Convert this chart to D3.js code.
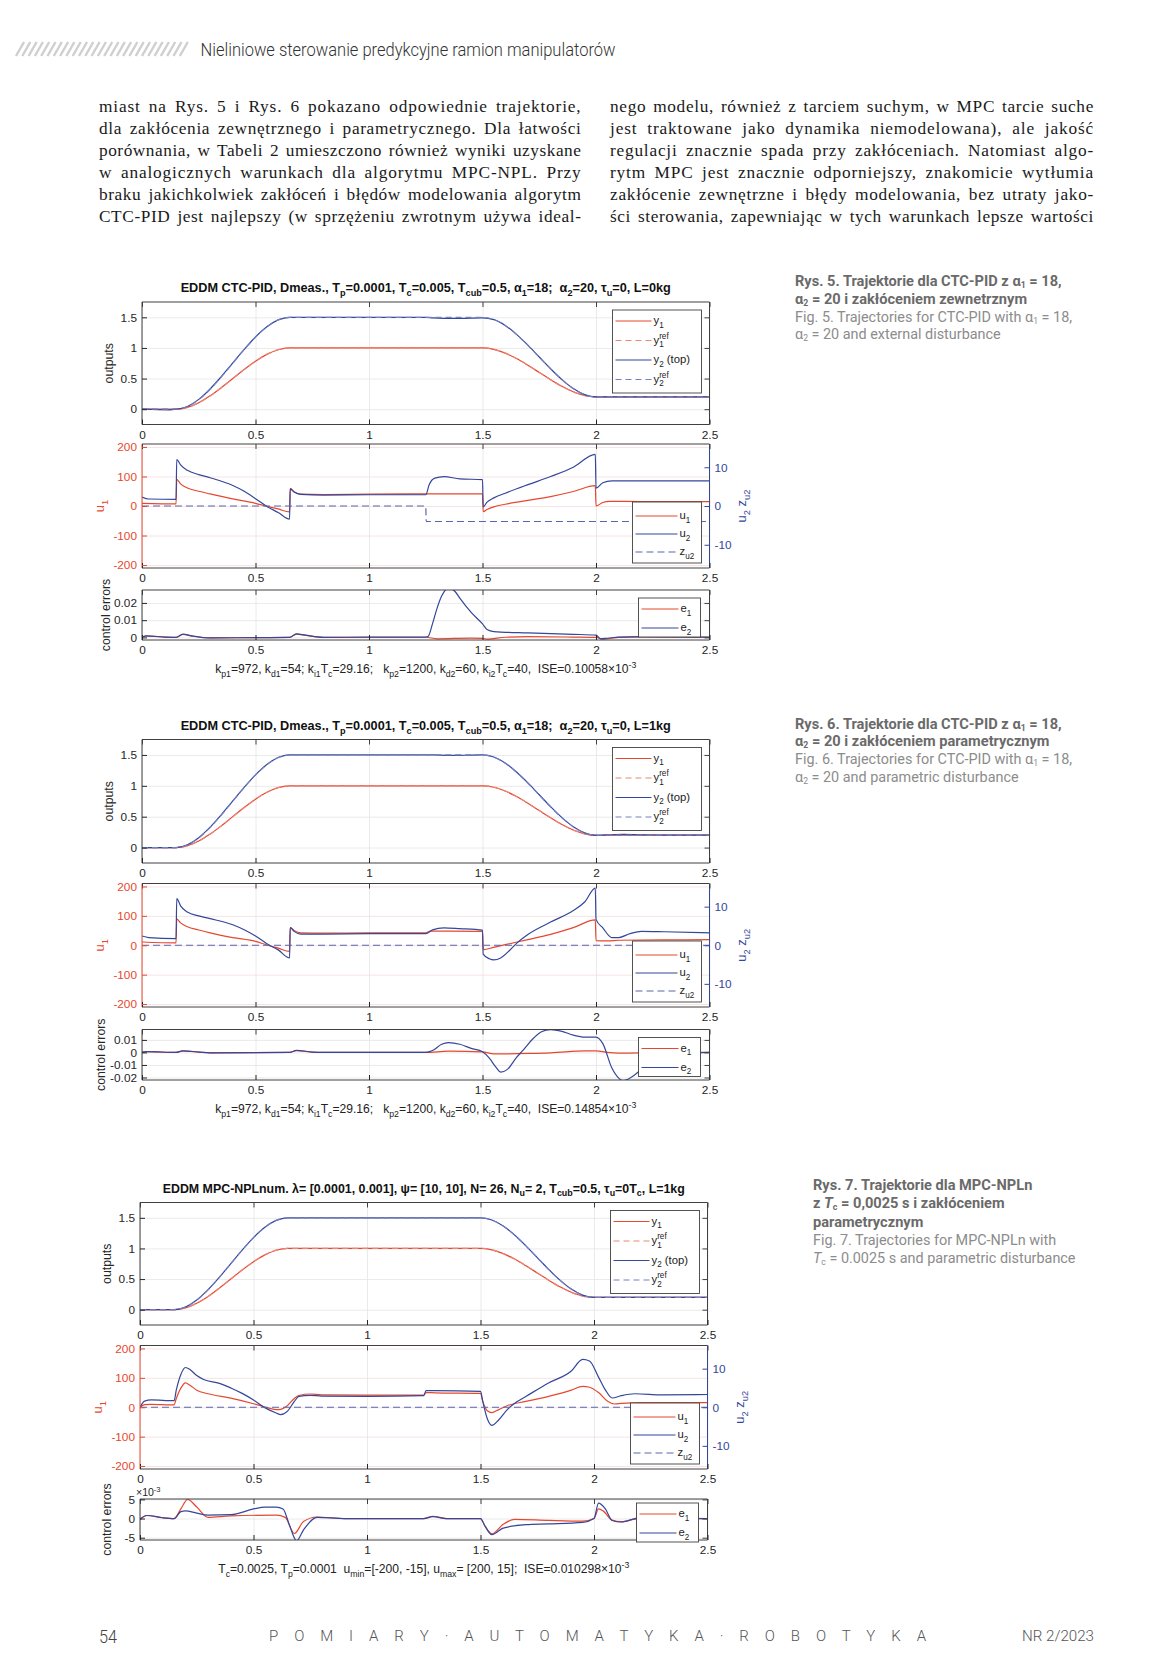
<!DOCTYPE html>
<html><head><meta charset="utf-8">
<script src="https://cdn.jsdelivr.net/npm/d3@7/dist/d3.min.js"></script>
<style>body{margin:0;background:#fff} svg text{white-space:pre}</style>
</head><body>
<script>
// ---------------- DATA ----------------
const xTickVals = [0, 0.5, 1, 1.5, 2, 2.5];
const xTickLabels = ["0", "0.5", "1", "1.5", "2", "2.5"];
const outTicks = [0, 0.5, 1, 1.5];
const outTickLabels = ["0", "0.5", "1", "1.5"];
const uLeftTicks = [-200, -100, 0, 100, 200];
const uLeftTickLabels = ["-200", "-100", "0", "100", "200"];
const uRightTicks = [-10, 0, 10];
const uRightTickLabels = ["-10", "0", "10"];
const e5Ticks = [0, 0.01, 0.02];
const e5TickLabels = ["0", "0.01", "0.02"];
const e6Ticks = [-0.02, -0.01, 0, 0.01];
const e6TickLabels = ["-0.02", "-0.01", "0", "0.01"];
const e7Ticks = [-0.005, 0, 0.005];
const e7TickLabels = ["-5", "0", "5"];

// reference trajectories (shared)
const y1Ref = [[0,0],[0.15,0],[0.20,0.028],[0.25,0.104],[0.30,0.216],[0.35,0.352],[0.40,0.5],[0.45,0.648],[0.50,0.784],[0.55,0.896],[0.60,0.972],[0.65,1],[1.50,1],[1.55,0.978],[1.60,0.917],[1.65,0.827],[1.70,0.718],[1.75,0.6],[1.80,0.482],[1.85,0.373],[1.90,0.283],[1.95,0.222],[2.00,0.2],[2.50,0.2]];
const y2Ref = [[0,0],[0.15,0],[0.20,0.042],[0.25,0.156],[0.30,0.324],[0.35,0.528],[0.40,0.75],[0.45,0.972],[0.50,1.176],[0.55,1.344],[0.60,1.458],[0.65,1.5],[1.50,1.5],[1.55,1.464],[1.60,1.365],[1.65,1.219],[1.70,1.042],[1.75,0.85],[1.80,0.658],[1.85,0.481],[1.90,0.335],[1.95,0.236],[2.00,0.2],[2.50,0.2]];

// Fig. 5
const f5Y1 = [[0,0],[0.15,0],[0.20,0.03],[0.25,0.106],[0.30,0.218],[0.35,0.354],[0.40,0.501],[0.45,0.648],[0.50,0.783],[0.55,0.895],[0.60,0.971],[0.65,1],[1.50,1],[1.55,0.977],[1.60,0.916],[1.65,0.826],[1.70,0.717],[1.75,0.6],[1.80,0.482],[1.85,0.374],[1.90,0.284],[1.95,0.223],[2.00,0.2],[2.50,0.2]];
const f5Y2 = [[0,0],[0.12,-0.01],[0.15,0],[0.20,0.045],[0.25,0.16],[0.30,0.33],[0.35,0.535],[0.40,0.755],[0.45,0.975],[0.50,1.178],[0.55,1.345],[0.60,1.458],[0.65,1.5],[1.25,1.5],[1.28,1.49],[1.33,1.482],[1.42,1.484],[1.50,1.49],[1.55,1.462],[1.60,1.368],[1.65,1.222],[1.70,1.045],[1.75,0.852],[1.80,0.66],[1.85,0.483],[1.90,0.337],[1.95,0.238],[2.00,0.2],[2.50,0.2]];
const f5U1 = [[0,9],[0.15,7],[0.153,90],[0.17,75],[0.2,61],[0.25,50],[0.3,41],[0.4,24],[0.5,9],[0.55,-1],[0.6,-10],[0.65,-20],[0.653,60],[0.67,48],[0.7,40],[0.8,39],[1.0,40],[1.25,41],[1.5,41],[1.503,-19],[1.52,-12],[1.55,-3],[1.6,6],[1.7,19],[1.8,32],[1.9,49],[1.997,69],[2.0,0],[2.03,12],[2.06,16],[2.2,15],[2.5,15]];
const f5U2 = [[0,2.3],[0.03,1.8],[0.15,1.7],[0.153,12.0],[0.17,10.6],[0.2,9.2],[0.25,8.1],[0.3,7.3],[0.35,6.4],[0.4,5.3],[0.45,3.8],[0.5,1.9],[0.55,-0.1],[0.6,-1.7],[0.65,-3.4],[0.653,4.4],[0.67,3.6],[0.7,3.0],[0.8,2.8],[1.0,2.9],[1.25,2.9],[1.265,5.5],[1.29,7.2],[1.33,7.6],[1.4,7.0],[1.5,6.8],[1.503,-0.2],[1.52,1.0],[1.55,2.1],[1.6,3.3],[1.7,5.5],[1.8,7.6],[1.9,10.0],[1.997,13.3],[2.0,4.6],[2.03,6.0],[2.07,6.5],[2.2,6.5],[2.5,6.5]];
const f5Z = [[0,0],[1.25,0],[1.252,-4],[2.5,-4]];
const f5E1 = [[0,0.0003],[0.02,0.0007],[0.1,0.0002],[0.15,0],[0.18,0.0017],[0.22,0.0008],[0.3,-0.0003],[0.5,-0.0001],[0.65,0],[0.68,0.0019],[0.72,0.0012],[0.8,0],[1.0,0.0001],[1.25,0.0001],[1.3,-0.0008],[1.45,-0.0004],[1.5,-0.0005],[1.52,-0.001],[1.6,0.0001],[1.7,0.0004],[1.9,0.0002],[2.0,0],[2.03,-0.001],[2.1,0],[2.2,0.0003],[2.5,0.0001]];
const f5E2 = [[0,0.0002],[0.02,0.0009],[0.1,0.0002],[0.15,0],[0.18,0.0019],[0.22,0.0009],[0.3,-0.0003],[0.5,-0.0001],[0.65,0],[0.68,0.0021],[0.72,0.0013],[0.8,0],[1.0,0.0002],[1.25,0.0002],[1.26,0.0005],[1.28,0.008],[1.3,0.017],[1.32,0.024],[1.35,0.0285],[1.38,0.0265],[1.4,0.0228],[1.45,0.0145],[1.5,0.0078],[1.52,0.0046],[1.55,0.0034],[1.7,0.0026],[1.9,0.0018],[2.0,0.0013],[2.02,-0.0008],[2.05,-0.0005],[2.1,0.0002],[2.2,0.0004],[2.5,0.0002]];

// Fig. 6
const f6Y1 = [[0,0],[0.15,0],[0.20,0.03],[0.25,0.106],[0.30,0.218],[0.35,0.354],[0.40,0.501],[0.45,0.648],[0.50,0.783],[0.55,0.895],[0.60,0.971],[0.65,1],[1.50,1],[1.55,0.977],[1.60,0.916],[1.65,0.826],[1.70,0.717],[1.75,0.6],[1.80,0.482],[1.85,0.374],[1.90,0.284],[1.95,0.223],[2.00,0.198],[2.05,0.197],[2.2,0.2],[2.50,0.2]];
const f6Y2 = [[0,0],[0.15,0],[0.20,0.045],[0.25,0.16],[0.30,0.33],[0.35,0.535],[0.40,0.755],[0.45,0.975],[0.50,1.178],[0.55,1.345],[0.60,1.458],[0.65,1.5],[1.28,1.5],[1.35,1.492],[1.42,1.495],[1.50,1.5],[1.55,1.466],[1.60,1.37],[1.65,1.224],[1.70,1.047],[1.75,0.855],[1.80,0.662],[1.85,0.485],[1.90,0.338],[1.95,0.24],[2.00,0.198],[2.05,0.205],[2.12,0.212],[2.2,0.206],[2.3,0.203],[2.50,0.201]];
const f6U1 = [[0,11],[0.15,8],[0.153,90],[0.17,76],[0.2,63],[0.25,52],[0.3,42],[0.4,26],[0.5,13],[0.55,1],[0.6,-10],[0.65,-21],[0.653,60],[0.67,50],[0.7,42],[0.8,41],[1.0,42],[1.25,42],[1.27,48],[1.35,48],[1.5,47],[1.503,-15],[1.55,-7],[1.6,2],[1.7,19],[1.8,37],[1.9,60],[1.997,86],[2.0,16],[2.05,15],[2.1,17],[2.3,18],[2.5,19]];
const f6U2 = [[0,2.4],[0.03,2.0],[0.15,1.7],[0.153,12.1],[0.17,10.2],[0.2,8.6],[0.25,7.6],[0.3,6.9],[0.4,5.3],[0.45,4.0],[0.5,2.4],[0.55,0.4],[0.6,-1.2],[0.65,-3.3],[0.653,4.6],[0.67,3.6],[0.7,2.9],[0.8,2.9],[1.0,3.0],[1.25,3.0],[1.28,4.0],[1.33,4.5],[1.4,4.3],[1.5,3.9],[1.503,-2.3],[1.53,-3.5],[1.55,-3.8],[1.58,-3.3],[1.62,-1.3],[1.65,0.5],[1.7,2.8],[1.8,6.0],[1.9,9.0],[1.95,11.2],[1.997,14.8],[2.0,6.7],[2.03,4.5],[2.07,2.0],[2.1,2.0],[2.15,3.0],[2.2,3.6],[2.3,3.5],[2.5,3.2]];
const f6Z = [[0,0],[2.5,0]];
const f6E1 = [[0,0.0003],[0.02,0.0006],[0.15,0],[0.18,0.0012],[0.25,0.0003],[0.3,-0.0003],[0.65,0],[0.68,0.0014],[0.75,0.0003],[0.8,0],[1.25,0],[1.35,0.001],[1.5,0.0005],[1.55,-0.0012],[1.7,-0.0008],[1.8,-0.0003],[1.95,0.0012],[2.0,0.0013],[2.05,0],[2.1,-0.0006],[2.2,-0.0004],[2.3,0],[2.5,0]];
const f6E2 = [[0,0.0002],[0.02,0.0007],[0.15,0],[0.18,0.0013],[0.25,0.0003],[0.3,-0.0003],[0.65,0],[0.68,0.0016],[0.75,0.0003],[0.8,0],[1.25,0],[1.28,0.0015],[1.32,0.0065],[1.35,0.0078],[1.4,0.0065],[1.45,0.0032],[1.5,0.0005],[1.53,-0.0045],[1.56,-0.012],[1.58,-0.0157],[1.61,-0.0135],[1.65,-0.004],[1.68,0.002],[1.72,0.0105],[1.76,0.0165],[1.8,0.0182],[1.85,0.0168],[1.9,0.0138],[1.95,0.0122],[2.0,0.0122],[2.03,0.007],[2.07,-0.0125],[2.1,-0.0205],[2.12,-0.0225],[2.17,-0.018],[2.2,-0.0135],[2.3,-0.005],[2.4,-0.001],[2.5,0]];

// Fig. 7
const f7Y1 = [[0,0],[0.15,0],[0.20,0.029],[0.25,0.105],[0.30,0.217],[0.35,0.353],[0.40,0.5],[0.45,0.647],[0.50,0.783],[0.55,0.895],[0.60,0.971],[0.65,1],[1.50,1],[1.55,0.977],[1.60,0.916],[1.65,0.826],[1.70,0.717],[1.75,0.6],[1.80,0.482],[1.85,0.374],[1.90,0.284],[1.95,0.223],[2.00,0.2],[2.50,0.2]];
const f7Y2 = [[0,0],[0.15,0],[0.20,0.044],[0.25,0.158],[0.30,0.327],[0.35,0.531],[0.40,0.752],[0.45,0.973],[0.50,1.177],[0.55,1.345],[0.60,1.458],[0.65,1.5],[1.50,1.5],[1.55,1.464],[1.60,1.366],[1.65,1.22],[1.70,1.043],[1.75,0.851],[1.80,0.659],[1.85,0.482],[1.90,0.336],[1.95,0.237],[2.00,0.2],[2.50,0.2]];
const f7U1 = [[0,0],[0.02,9],[0.05,10],[0.15,8],[0.16,30],[0.18,65],[0.2,83],[0.22,75],[0.25,58],[0.3,46],[0.4,31],[0.5,12],[0.55,1],[0.6,-8],[0.62,-7],[0.65,6],[0.68,30],[0.7,40],[0.75,45],[0.8,42],[1.0,41],[1.25,41],[1.26,50],[1.3,49],[1.5,47],[1.51,20],[1.53,-12],[1.55,-18],[1.58,-8],[1.62,6],[1.7,20],[1.8,37],[1.9,58],[1.95,71],[1.98,68],[2.02,50],[2.06,20],[2.09,11],[2.12,13],[2.2,16],[2.5,16]];
const f7U2 = [[0,0],[0.02,1.6],[0.05,1.9],[0.15,1.7],[0.16,4.5],[0.18,8.5],[0.2,10.3],[0.22,9.8],[0.25,8.2],[0.28,7.2],[0.35,6.2],[0.4,5.0],[0.45,3.6],[0.5,1.9],[0.55,-0.1],[0.6,-1.5],[0.62,-1.9],[0.65,-1.0],[0.68,1.5],[0.7,2.8],[0.75,3.1],[0.8,2.9],[1.0,2.8],[1.25,3.0],[1.26,4.3],[1.3,4.3],[1.5,4.1],[1.51,1.5],[1.53,-3.0],[1.55,-4.7],[1.58,-3.3],[1.62,-0.5],[1.66,1.4],[1.7,2.8],[1.8,6.3],[1.9,9.4],[1.95,12.4],[1.98,12.0],[2.02,7.8],[2.05,4.5],[2.08,2.4],[2.12,3.0],[2.18,3.5],[2.3,3.2],[2.5,3.3]];
const f7Z = [[0,0],[2.5,0]];
const f7E1 = [[0,0],[0.03,0.0008],[0.1,0.0002],[0.15,0],[0.18,0.0025],[0.21,0.005],[0.25,0.003],[0.3,0.0003],[0.4,0.0007],[0.6,0.0009],[0.64,0.0003],[0.68,-0.0039],[0.72,-0.0008],[0.78,0.0004],[0.9,0],[1.25,0],[1.29,0.0006],[1.35,0],[1.5,0],[1.52,-0.002],[1.55,-0.004],[1.6,-0.0015],[1.65,-0.0002],[1.8,-0.0005],[1.95,-0.0007],[2.0,0],[2.02,0.0025],[2.04,0.002],[2.08,-0.0004],[2.12,-0.0008],[2.2,0],[2.5,0]];
const f7E2 = [[0,-0.0003],[0.03,0.0008],[0.1,0.0002],[0.15,0],[0.18,0.0018],[0.2,0.002],[0.25,0.0014],[0.3,0.0009],[0.4,0.001],[0.5,0.0025],[0.55,0.003],[0.6,0.003],[0.63,0.0025],[0.66,-0.002],[0.69,-0.0058],[0.72,-0.003],[0.78,0.0003],[0.9,0],[1.25,0],[1.29,0.0005],[1.35,0],[1.5,0],[1.52,-0.002],[1.55,-0.0042],[1.6,-0.0025],[1.7,-0.0016],[1.8,-0.0014],[1.95,-0.001],[2.0,0],[2.02,0.004],[2.05,0.0025],[2.08,-0.0005],[2.12,-0.0009],[2.2,0.0002],[2.5,0]];

// Texts
const headerText = "Nieliniowe sterowanie predykcyjne ramion manipulatorów";
const bodyLeft = [
 "miast na Rys. 5 i Rys. 6 pokazano odpowiednie trajektorie,",
 "dla zakłócenia zewnętrznego i parametrycznego. Dla łatwości",
 "porównania, w Tabeli 2 umieszczono również wyniki uzyskane",
 "w analogicznych warunkach dla algorytmu MPC-NPL. Przy",
 "braku jakichkolwiek zakłóceń i błędów modelowania algorytm",
 "CTC-PID jest najlepszy (w sprzężeniu zwrotnym używa ideal-"];
const bodyRight = [
 "nego modelu, również z tarciem suchym, w MPC tarcie suche",
 "jest traktowane jako dynamika niemodelowana), ale jakość",
 "regulacji znacznie spada przy zakłóceniach. Natomiast algo-",
 "rytm MPC jest znacznie odporniejszy, znakomicie wytłumia",
 "zakłócenie zewnętrzne i błędy modelowania, bez utraty jako-",
 "ści sterowania, zapewniając w tych warunkach lepsze wartości"];
const title5 = "EDDM CTC-PID, Dmeas., T_p=0.0001, T_c=0.005, T_{cub}=0.5, α_1=18;  α_2=20, τ_u=0, L=0kg";
const title6 = "EDDM CTC-PID, Dmeas., T_p=0.0001, T_c=0.005, T_{cub}=0.5, α_1=18;  α_2=20, τ_u=0, L=1kg";
const title7 = "EDDM MPC-NPLnum. λ= [0.0001, 0.001], ψ= [10, 10], N= 26, N_u= 2, T_{cub}=0.5, τ_u=0T_c, L=1kg";
const note5 = "k_{p1}=972, k_{d1}=54; k_{i1}T_c=29.16;   k_{p2}=1200, k_{d2}=60, k_{i2}T_c=40,  ISE=0.10058×10^{-3}";
const note6 = "k_{p1}=972, k_{d1}=54; k_{i1}T_c=29.16;   k_{p2}=1200, k_{d2}=60, k_{i2}T_c=40,  ISE=0.14854×10^{-3}";
const note7 = "T_c=0.0025, T_p=0.0001  u_{min}=[-200, -15], u_{max}= [200, 15];  ISE=0.010298×10^{-3}";
const cap5 = [["Rys. 5. Trajektorie dla CTC-PID z α_1 = 18,",1],["α_2 = 20 i zakłóceniem zewnetrznym",1],["Fig. 5. Trajectories for CTC-PID with α_1 = 18,",0],["α_2 = 20 and external disturbance",0]];
const cap6 = [["Rys. 6. Trajektorie dla CTC-PID z α_1 = 18,",1],["α_2 = 20 i zakłóceniem parametrycznym",1],["Fig. 6. Trajectories for CTC-PID with α_1 = 18,",0],["α_2 = 20 and parametric disturbance",0]];
const cap7 = [["Rys. 7. Trajektorie dla MPC-NPLn",1],["z ~{T}_c = 0,0025 s i zakłóceniem",1],["parametrycznym",1],["Fig. 7. Trajectories for MPC-NPLn with",0],["~{T}_c = 0.0025 s and parametric disturbance",0]];
const outLegend = ["y_1","y_1^{ref}","y_2 (top)","y_2^{ref}"];
const uLegend = ["u_1","u_2","z_{u2}"];
const eLegend = ["e_1","e_2"];

// ---------------- DRAWING ----------------
const W = 1162, H = 1672;
const svg = d3.select("body").append("svg").attr("width", W).attr("height", H).style("display","block");
const defs = svg.append("defs");
const RED = "#e6482f", BLUE = "#34479a", RED_REF = "#ec8577", BLUE_REF = "#7280c4", Z_COL = "#5866ad";
const AX = "#404040", GRID = "#e4e4e4", GRID_RED = "#f6dcdc";
const SANS = '"Liberation Sans", Arial, Helvetica, sans-serif';

function parseRich(s) {
  const segs = []; let buf = ""; let i = 0;
  while (i < s.length) {
    const c = s[i];
    if ((c === "_" || c === "^" || c === "~") && i + 1 < s.length) {
      if (buf) { segs.push({t: buf, k: "n"}); buf = ""; }
      const k = c === "_" ? "sub" : c === "^" ? "sup" : "it";
      if (s[i+1] === "{") { const j = s.indexOf("}", i); segs.push({t: s.slice(i+2, j), k}); i = j + 1; }
      else { segs.push({t: s[i+1], k}); i += 2; }
    } else { buf += c; i++; }
  }
  if (buf) segs.push({t: buf, k: "n"});
  return segs;
}
function rich(parent, s, x, y, o) {
  o = Object.assign({size: 12, fill: "#222", weight: "normal", anchor: "start", family: SANS, rotate: 0, subScale: 0.72, subDy: 0.32}, o || {});
  const g = parent.append("g");
  const inner = g.append("g");
  let cx = 0, subStart = null, prev = null;
  parseRich(s).forEach(sg => {
    let fs = o.size, dy = 0, sx = cx;
    if (sg.k === "sub") { fs = o.size * o.subScale; dy = o.size * o.subDy; subStart = cx; }
    if (sg.k === "sup") { fs = o.size * 0.72; dy = -o.size * 0.42; if (prev && prev.k === "sub") sx = subStart; }
    const t = inner.append("text").attr("x", sx).attr("y", dy).attr("font-size", fs)
      .attr("font-family", o.family).attr("font-weight", o.weight).attr("fill", o.fill)
      .attr("font-style", sg.k === "it" ? "italic" : "normal").text(sg.t);
    const w = t.node().getComputedTextLength();
    cx = Math.max(cx, sx + w);
    prev = sg;
  });
  const off = o.anchor === "middle" ? -cx / 2 : o.anchor === "end" ? -cx : 0;
  inner.attr("transform", `translate(${off},0)`);
  g.attr("transform", `translate(${x},${y}) rotate(${o.rotate})`);
  return cx;
}

// header
const hdr = svg.append("g");
d3.range(27).forEach(i => {
  const x0 = 16 + i * 6.3;
  hdr.append("line").attr("x1", x0).attr("y1", 56).attr("x2", x0 + 8).attr("y2", 42)
    .attr("stroke", "#cfcfcf").attr("stroke-width", 2.4);
});
svg.append("text").attr("x", 200.5).attr("y", 56).attr("font-family", "Roboto, 'Open Sans', sans-serif")
  .attr("font-weight", 300).attr("font-size", 19).attr("fill", "#333")
  .attr("textLength", 415).attr("lengthAdjust", "spacingAndGlyphs").text(headerText);

// body text, justified via letter- and word-spacing
function bodyCol(lines, x0, x1) {
  lines.forEach((ln, i) => {
    const t = svg.append("text").attr("x", x0).attr("y", 112 + i * 21.9)
      .attr("font-family", '"Liberation Serif", "DejaVu Serif", serif').attr("font-size", 17.3).attr("fill", "#1a1a1a").text(ln);
    const w = t.node().getComputedTextLength();
    const extra = (x1 - x0) - w;
    const ls = Math.min(0.85, Math.max(0, extra * 0.7 / ln.length));
    t.attr("letter-spacing", ls);
    const w2 = t.node().getComputedTextLength();
    const n = (ln.match(/ /g) || []).length;
    if (n > 0) t.attr("word-spacing", ((x1 - x0) - w2) / n);
  });
}
bodyCol(bodyLeft, 99, 581.5);
bodyCol(bodyRight, 610, 1094);

// panels
let clipN = 0;
function panel(P) {
  const g = svg.append("g");
  const x = d3.scaleLinear().domain([0, 2.5]).range([P.left, P.right]);
  const y = d3.scaleLinear().domain(P.yDomain).range([P.bottom, P.top]);
  const yR = P.r ? d3.scaleLinear().domain(P.r.domain).range([P.bottom, P.top]) : null;
  const h = P.bottom - P.top, w = P.right - P.left;
  // grid
  g.append("g").attr("transform", `translate(0,${P.bottom})`)
    .call(d3.axisBottom(x).tickValues(xTickVals).tickSize(-h).tickFormat(""))
    .call(a => { a.select(".domain").remove(); a.selectAll("line").attr("stroke", GRID).attr("stroke-width", 0.8); });
  g.append("g").attr("transform", `translate(${P.left},0)`)
    .call(d3.axisLeft(y).tickValues(P.yTicks).tickSize(-w).tickFormat(""))
    .call(a => { a.select(".domain").remove(); a.selectAll("line").attr("stroke", P.r ? GRID_RED : GRID).attr("stroke-width", 0.8); });
  // lines
  const id = "clip" + (clipN++);
  defs.append("clipPath").attr("id", id).append("rect").attr("x", P.left).attr("y", P.top).attr("width", w).attr("height", h);
  const lg = g.append("g").attr("clip-path", `url(#${id})`);
  P.series.forEach(s => {
    const sc = s.right ? yR : y;
    lg.append("path").datum(s.data)
      .attr("d", d3.line().x(d => x(d[0])).y(d => sc(d[1])).curve(d3.curveMonotoneX))
      .attr("fill", "none").attr("stroke", s.color).attr("stroke-width", 1.2)
      .attr("stroke-dasharray", s.dash || null);
  });
  // box
  const leftC = P.r ? RED : AX, rightC = P.r ? BLUE : AX;
  g.append("line").attr("x1", P.left).attr("x2", P.right).attr("y1", P.top).attr("y2", P.top).attr("stroke", AX);
  g.append("line").attr("x1", P.left).attr("x2", P.right).attr("y1", P.bottom).attr("y2", P.bottom).attr("stroke", AX);
  g.append("line").attr("x1", P.left).attr("x2", P.left).attr("y1", P.top).attr("y2", P.bottom).attr("stroke", leftC);
  g.append("line").attr("x1", P.right).attr("x2", P.right).attr("y1", P.top).attr("y2", P.bottom).attr("stroke", rightC);
  // axes
  const styleAx = (a, col) => {
    a.select(".domain").remove();
    a.selectAll("line").attr("stroke", col);
    a.selectAll("text").attr("font-family", SANS).attr("font-size", 11.8).attr("fill", col);
  };
  g.append("g").attr("transform", `translate(0,${P.bottom})`)
    .call(d3.axisBottom(x).tickValues(xTickVals).tickFormat((d, i) => xTickLabels[i]).tickSizeInner(-5).tickSizeOuter(0).tickPadding(6))
    .call(a => styleAx(a, "#262626"));
  g.append("g").attr("transform", `translate(0,${P.top})`)
    .call(d3.axisTop(x).tickValues(xTickVals).tickFormat("").tickSizeInner(-5).tickSizeOuter(0))
    .call(a => styleAx(a, AX));
  g.append("g").attr("transform", `translate(${P.left},0)`)
    .call(d3.axisLeft(y).tickValues(P.yTicks).tickFormat((d, i) => P.yLabels[i]).tickSizeInner(-5).tickSizeOuter(0).tickPadding(5))
    .call(a => styleAx(a, P.r ? RED : "#262626"));
  if (P.r) {
    g.append("g").attr("transform", `translate(${P.right},0)`)
      .call(d3.axisRight(yR).tickValues(P.r.ticks).tickFormat((d, i) => P.r.labels[i]).tickSizeInner(-5).tickSizeOuter(0).tickPadding(5))
      .call(a => styleAx(a, BLUE));
  } else {
    g.append("g").attr("transform", `translate(${P.right},0)`)
      .call(d3.axisRight(y).tickValues(P.yTicks).tickFormat("").tickSizeInner(-5).tickSizeOuter(0))
      .call(a => styleAx(a, AX));
  }
  // legend
  const L = P.legend;
  const lx1 = P.right - L.dr, lx0 = lx1 - L.w, ly0 = P.top + L.dt;
  g.append("rect").attr("x", lx0).attr("y", ly0).attr("width", L.w).attr("height", L.h)
    .attr("fill", "#fff").attr("stroke", AX).attr("stroke-width", 0.9);
  L.labels.forEach((lab, i) => {
    const s = P.series[L.order[i]];
    const yy = ly0 + L.first + i * L.step;
    g.append("line").attr("x1", lx0 + 3).attr("x2", lx0 + 3 + L.len).attr("y1", yy).attr("y2", yy)
      .attr("stroke", s.color).attr("stroke-width", 1.2).attr("stroke-dasharray", s.dash || null);
    rich(g, lab, lx0 + 5 + L.len, yy + 3, {size: 11.3, fill: "#222"});
  });
  return {x, y};
}

function figure(F) {
  const left = F.left, right = F.right;
  rich(svg, F.title, (left + right) / 2, F.p1[0] - 10, {size: F.tsize || 12.7, weight: "bold", anchor: "middle", fill: "#111"});
  panel({left, right, top: F.p1[0], bottom: F.p1[1], yDomain: [-0.25, 1.75], yTicks: outTicks, yLabels: outTickLabels,
    series: [{data: F.y1, color: RED}, {data: y1Ref, color: RED_REF, dash: "6,4"}, {data: F.y2, color: BLUE}, {data: y2Ref, color: BLUE_REF, dash: "6,4"}],
    legend: {labels: outLegend, order: [0,1,2,3], dr: 8, w: 89, dt: 8, h: 83, first: 11, step: 19.5, len: 36}});
  rich(svg, "outputs", left - 29, (F.p1[0] + F.p1[1]) / 2, {size: 12.3, anchor: "middle", rotate: -90, fill: "#262626"});
  panel({left, right, top: F.p2[0], bottom: F.p2[1], yDomain: [-210, 210], yTicks: uLeftTicks, yLabels: uLeftTickLabels,
    r: {domain: [-16, 16], ticks: uRightTicks, labels: uRightTickLabels},
    series: [{data: F.u1, color: RED}, {data: F.u2, color: BLUE, right: true}, {data: F.z, color: Z_COL, dash: "7,4", right: true}],
    legend: {labels: uLegend, order: [0,1,2], dr: 8, w: 69, dt: F.p2[1] - F.p2[0] - 66, h: 61, first: 14, step: 18, len: 42}});
  rich(svg, "u_1", left - 38, (F.p2[0] + F.p2[1]) / 2, {size: 13, anchor: "middle", rotate: -90, fill: RED});
  rich(svg, "u_2 z_{u2}", right + 36, (F.p2[0] + F.p2[1]) / 2, {size: 13, anchor: "middle", rotate: -90, fill: BLUE});
  panel({left, right, top: F.p3[0], bottom: F.p3[1], yDomain: F.eDomain, yTicks: F.eTicks, yLabels: F.eLabels,
    series: [{data: F.e1, color: RED}, {data: F.e2, color: BLUE}],
    legend: {labels: eLegend, order: [0,1], dr: 9, w: 62, dt: F.legE || 8, h: 39, first: 11, step: 19, len: 37}});
  rich(svg, "control errors", left - F.ceOff, (F.p3[0] + F.p3[1]) / 2, {size: 12.3, anchor: "middle", rotate: -90, fill: "#262626"});
  if (F.expo) rich(svg, "×10^{-3}", left - 4, F.p3[0] - 3, {size: 10.5, fill: "#262626"});
  rich(svg, F.note, (left + right) / 2, F.p3[1] + 33, {size: 12.1, anchor: "middle", fill: "#222"});
}

figure({title: title5, note: note5, left: 142, right: 709.5, p1: [302, 424.5], p2: [444, 568], p3: [590, 640], ceOff: 32,
  y1: f5Y1, y2: f5Y2, u1: f5U1, u2: f5U2, z: f5Z, e1: f5E1, e2: f5E2,
  eDomain: [-0.0015, 0.0275], eTicks: e5Ticks, eLabels: e5TickLabels});
figure({title: title6, note: note6, left: 142, right: 709.5, p1: [739.5, 863], p2: [883.5, 1007], p3: [1029.5, 1080], ceOff: 37,
  y1: f6Y1, y2: f6Y2, u1: f6U1, u2: f6U2, z: f6Z, e1: f6E1, e2: f6E2,
  eDomain: [-0.022, 0.0183], eTicks: e6Ticks, eLabels: e6TickLabels});
figure({title: title7, note: note7, left: 140, right: 707.5, p1: [1202.5, 1325], p2: [1345.5, 1469], p3: [1499, 1540], ceOff: 29, tsize: 12.4,
  y1: f7Y1, y2: f7Y2, u1: f7U1, u2: f7U2, z: f7Z, e1: f7E1, e2: f7E2,
  eDomain: [-0.0056, 0.0051], eTicks: e7Ticks, eLabels: e7TickLabels, expo: true, legE: 4});

// right-hand captions
function caption(lines, x, y0, step) {
  lines.forEach((ln, i) => {
    rich(svg, ln[0], x, y0 + i * step, {size: ln[1] ? 14.6 : 14.4, weight: ln[1] ? "bold" : "normal",
      fill: ln[1] ? "#6a6a6a" : "#8c8c8c", family: "Roboto, 'Liberation Sans', sans-serif",
      subScale: 0.6, subDy: 0.14});
  });
}
caption(cap5, 795, 286, 17.8);
caption(cap6, 795, 728.5, 17.8);
caption(cap7, 813, 1190, 18.3);

// footer
const FF = "Roboto, 'Open Sans', sans-serif";
svg.append("text").attr("x", 99).attr("y", 1643).attr("font-family", FF).attr("font-weight", 300)
  .attr("font-size", 19).attr("fill", "#444").attr("textLength", 18).attr("lengthAdjust", "spacingAndGlyphs").text("54");
svg.append("text").attr("x", 269).attr("y", 1641).attr("font-family", FF).attr("font-weight", 300)
  .attr("font-size", 15).attr("fill", "#555").attr("textLength", 657).attr("lengthAdjust", "spacing")
  .text("P O M I A R Y · A U T O M A T Y K A · R O B O T Y K A");
svg.append("text").attr("x", 1022).attr("y", 1641).attr("font-family", FF).attr("font-weight", 300)
  .attr("font-size", 15).attr("fill", "#555").attr("textLength", 72).attr("lengthAdjust", "spacingAndGlyphs").text("NR 2/2023");
</script></body></html>
